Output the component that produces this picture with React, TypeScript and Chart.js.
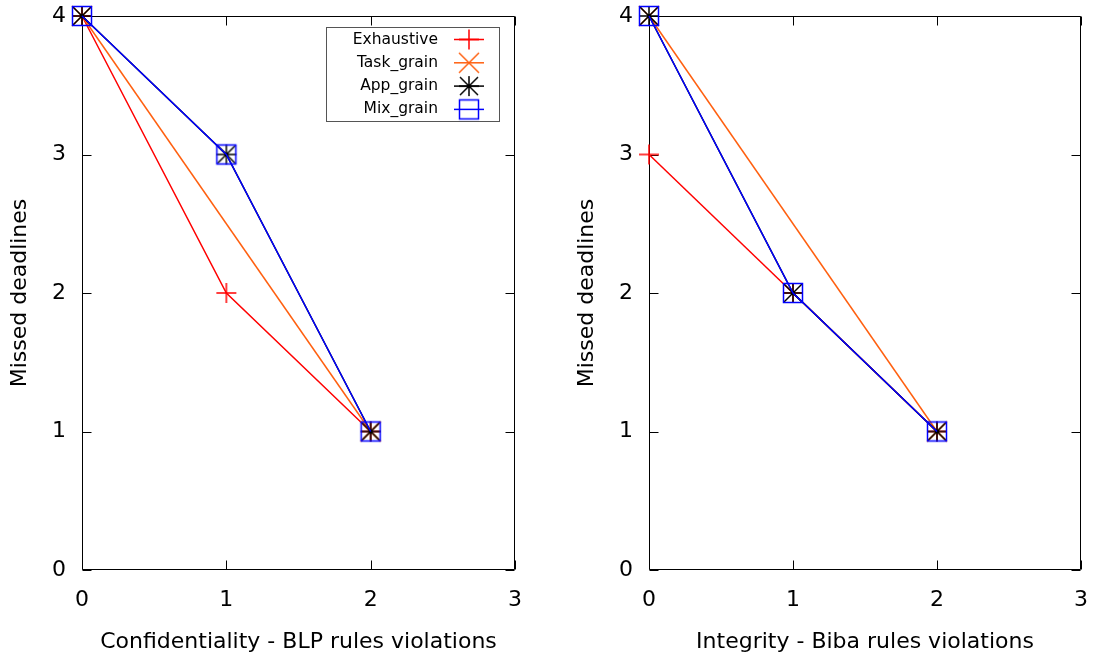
import React, { useEffect, useRef } from "react";
import { Chart, registerables } from "chart.js";

Chart.register(...registerables);

// ---------- data ----------
const seriesLabels = ["Exhaustive", "Task_grain", "App_grain", "Mix_grain"];
const seriesColors = ["#ff0000", "#ff6010", "#000000", "#0000ff"];
const seriesMarkers = ["plus", "x", "star", "box"];

const xValues = [0, 1, 2];
const xTickValues = [0, 1, 2, 3];
const yTickValues = [0, 1, 2, 3, 4];

// Confidentiality panel (left)
const confExhaustive = [4, 2, 1];
const confTask = [4, null, 1];
const confApp = [4, 3, 1];
const confMix = [4, 3, 1];

// Integrity panel (right)
const intExhaustive = [3, 2, 1];
const intTask = [4, null, 1];
const intApp = [4, 2, 1];
const intMix = [4, 2, 1];

const confXTitle = "Confidentiality - BLP rules violations";
const intXTitle = "Integrity - Biba rules violations";
const yTitle = "Missed deadlines";

const FONT = "'DejaVu Sans', sans-serif";

// ---------- helpers ----------
function makeMarker(kind: string, color: string): HTMLCanvasElement {
  const c = document.createElement("canvas");
  c.width = 24;
  c.height = 24;
  const ctx = c.getContext("2d") as CanvasRenderingContext2D;
  ctx.strokeStyle = color;
  ctx.lineWidth = 1.5;
  const m = 12;
  const r = 10;
  ctx.beginPath();
  if (kind === "plus" || kind === "star") {
    ctx.moveTo(m - r, m);
    ctx.lineTo(m + r, m);
    ctx.moveTo(m, m - r);
    ctx.lineTo(m, m + r);
  }
  if (kind === "x" || kind === "star") {
    const d = kind === "star" ? 9 : 10;
    ctx.moveTo(m - d, m - d);
    ctx.lineTo(m + d, m + d);
    ctx.moveTo(m - d, m + d);
    ctx.lineTo(m + d, m - d);
  }
  if (kind === "box") {
    ctx.rect(m - 9.5, m - 9.5, 19, 19);
  }
  ctx.stroke();
  return c;
}

const framePlugin = {
  id: "gnuFrame",
  beforeDatasetsDraw(chart: any) {
    const { ctx, chartArea: a, scales } = chart;
    const L = Math.round(a.left) + 0.5;
    const R = Math.round(a.right) - 0.5;
    const T = Math.round(a.top) + 0.5;
    const B = Math.round(a.bottom) - 0.5;
    const tl = 9;
    ctx.save();
    ctx.strokeStyle = "#000";
    ctx.lineWidth = 1;
    ctx.beginPath();
    ctx.rect(L, T, R - L, B - T);
    for (const v of xTickValues) {
      const px = Math.round(scales.x.getPixelForValue(v)) + 0.5;
      ctx.moveTo(px, B);
      ctx.lineTo(px, B - tl);
      ctx.moveTo(px, T);
      ctx.lineTo(px, T + tl);
    }
    for (const v of yTickValues) {
      const py = Math.round(scales.y.getPixelForValue(v)) + 0.5;
      ctx.moveTo(L, py);
      ctx.lineTo(L + tl, py);
      ctx.moveTo(R, py);
      ctx.lineTo(R - tl, py);
    }
    ctx.stroke();
    ctx.restore();
  },
};

function makeLegendPlugin(markers: HTMLCanvasElement[]) {
  return {
    id: "gnuLegend",
    afterDraw(chart: any) {
      const { ctx } = chart;
      const boxL = 326.5;
      const boxT = 27.5;
      const boxW = 173;
      const boxH = 94;
      ctx.save();
      ctx.fillStyle = "#fff";
      ctx.fillRect(boxL, boxT, boxW, boxH);
      ctx.strokeStyle = "#555";
      ctx.lineWidth = 1;
      ctx.strokeRect(boxL, boxT, boxW, boxH);
      ctx.font = `15.5px ${FONT}`;
      ctx.textAlign = "right";
      ctx.textBaseline = "middle";
      chart.data.datasets.forEach((ds: any, i: number) => {
        const y = 39.5 + i * 23.3;
        ctx.fillStyle = "#000";
        ctx.fillText(ds.label, 438, y);
        ctx.strokeStyle = ds.borderColor;
        ctx.lineWidth = 1.5;
        ctx.beginPath();
        ctx.moveTo(454, y);
        ctx.lineTo(484, y);
        ctx.stroke();
        const mk = markers[i];
        ctx.drawImage(mk, 469 - mk.width / 2, y - mk.height / 2);
      });
      ctx.restore();
    },
  };
}

function zeroPadding(s: any) {
  s.paddingTop = 0;
  s.paddingBottom = 0;
  s.paddingLeft = 0;
  s.paddingRight = 0;
}

function buildConfig(series: (number | null)[][], xTitle: string, padLeft: number, padRight: number, withLegend: boolean) {
  const markers = seriesMarkers.map((k, i) => makeMarker(k, seriesColors[i]));
  const datasets = series.map((vals, i) => ({
    label: seriesLabels[i],
    data: xValues
      .map((x, j) => ({ x, y: vals[j] }))
      .filter((p) => p.y !== null),
    borderColor: seriesColors[i],
    backgroundColor: seriesColors[i],
    borderWidth: 1.5,
    pointStyle: markers[i],
    pointRadius: 10,
    pointHoverRadius: 10,
    tension: 0,
    fill: false,
    clip: false as const,
    order: series.length - i,
  }));
  const plugins: any[] = [framePlugin];
  if (withLegend) plugins.push(makeLegendPlugin(markers));
  return {
    type: "line" as const,
    data: { datasets },
    plugins,
    options: {
      responsive: false,
      animation: false as const,
      events: [],
      layout: { padding: { left: padLeft, right: padRight, top: 16, bottom: 0 } },
      plugins: { legend: { display: false }, tooltip: { enabled: false } },
      scales: {
        x: {
          type: "linear" as const,
          min: 0,
          max: 3,
          grid: { display: false, drawTicks: false },
          border: { display: false },
          afterBuildTicks: (s: any) => {
            s.ticks = xTickValues.map((v) => ({ value: v }));
          },
          afterFit: (s: any) => {
            s.height = 88;
            zeroPadding(s);
          },
          ticks: { color: "#000", font: { family: FONT, size: 22 }, padding: 17, maxRotation: 0 },
          title: {
            display: true,
            text: xTitle,
            color: "#000",
            font: { family: FONT, size: 22 },
            padding: { top: 0, bottom: 3 },
          },
        },
        y: {
          type: "linear" as const,
          min: 0,
          max: 4,
          grid: { display: false, drawTicks: false },
          border: { display: false },
          afterBuildTicks: (s: any) => {
            s.ticks = yTickValues.map((v) => ({ value: v }));
          },
          afterFit: (s: any) => {
            s.width = 82;
            zeroPadding(s);
          },
          ticks: { color: "#000", font: { family: FONT, size: 22 }, padding: 16 },
          title: {
            display: true,
            text: yTitle,
            color: "#000",
            font: { family: FONT, size: 22 },
            padding: { top: 7, bottom: 0 },
          },
        },
      },
    },
  };
}

function Panel(props: { series: (number | null)[][]; xTitle: string; padLeft: number; padRight: number; legend: boolean }) {
  const ref = useRef<HTMLCanvasElement | null>(null);
  useEffect(() => {
    if (!ref.current) return;
    const chart = new Chart(ref.current, buildConfig(props.series, props.xTitle, props.padLeft, props.padRight, props.legend) as any);
    return () => chart.destroy();
  }, []);
  return <canvas ref={ref} width={547} height={658} style={{ display: "block", width: 547, height: 658 }} />;
}

export default function App() {
  return (
    <div
      style={{
        position: "absolute",
        left: 0,
        top: 0,
        width: 1094,
        height: 658,
        background: "#fff",
        display: "flex",
        flexDirection: "row",
      }}
    >
      <Panel series={[confExhaustive, confTask, confApp, confMix]} xTitle={confXTitle} padLeft={0} padRight={32} legend={true} />
      <Panel series={[intExhaustive, intTask, intApp, intMix]} xTitle={intXTitle} padLeft={20} padRight={13} legend={false} />
    </div>
  );
}
